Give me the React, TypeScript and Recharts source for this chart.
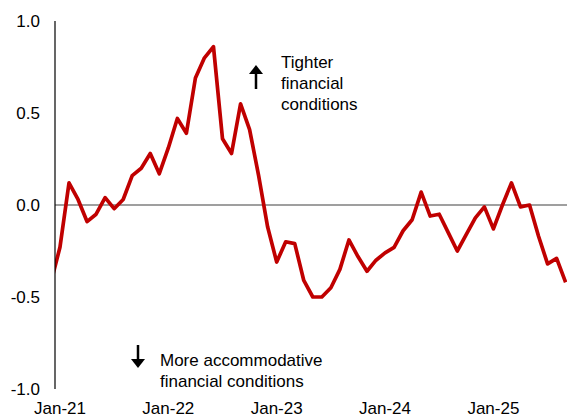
import { Line, LineChart, ReferenceLine, XAxis, YAxis } from "recharts";

// month labels, Dec-20 is only there so the line enters the plot from the left edge
const months = [
	"Dec-20",
	"Jan-21", "Feb-21", "Mar-21", "Apr-21", "May-21", "Jun-21", "Jul-21", "Aug-21", "Sep-21", "Oct-21", "Nov-21", "Dec-21",
	"Jan-22", "Feb-22", "Mar-22", "Apr-22", "May-22", "Jun-22", "Jul-22", "Aug-22", "Sep-22", "Oct-22", "Nov-22", "Dec-22",
	"Jan-23", "Feb-23", "Mar-23", "Apr-23", "May-23", "Jun-23", "Jul-23", "Aug-23", "Sep-23", "Oct-23", "Nov-23", "Dec-23",
	"Jan-24", "Feb-24", "Mar-24", "Apr-24", "May-24", "Jun-24", "Jul-24", "Aug-24", "Sep-24", "Oct-24", "Nov-24", "Dec-24",
	"Jan-25", "Feb-25", "Mar-25", "Apr-25", "May-25", "Jun-25", "Jul-25", "Aug-25", "Sep-25",
];

const fci = [
	-0.42,
	-0.23, 0.12, 0.03, -0.09, -0.05, 0.04, -0.02, 0.03, 0.16, 0.2, 0.28, 0.17,
	0.31, 0.47, 0.39, 0.69, 0.8, 0.86, 0.36, 0.28, 0.55, 0.41, 0.16, -0.12,
	-0.31, -0.2, -0.21, -0.41, -0.5, -0.5, -0.45, -0.35, -0.19, -0.28, -0.36, -0.3,
	-0.26, -0.23, -0.14, -0.08, 0.07, -0.06, -0.05, -0.15, -0.25, -0.16, -0.07, -0.01,
	-0.13, 0.0, 0.12, -0.01, 0.0, -0.17, -0.32, -0.29, -0.42,
];

const xTickLabels = ["Jan-21", "Jan-22", "Jan-23", "Jan-24", "Jan-25"];
const yTicks = [-1, -0.5, 0, 0.5, 1];

const FONT = "'Liberation Sans', Arial, sans-serif";

const chartData = months.map((m, i) => ({ idx: i - 1, month: m, value: fci[i] }));
const xTicks = xTickLabels.map((l) => months.indexOf(l) - 1);

export default function App() {
	return (
		<div style={{ position: "absolute", left: 0, top: 0, width: 567, height: 418 }}>
			<LineChart
				width={567}
				height={418}
				data={chartData}
				margin={{ top: 21, right: 0, bottom: 0, left: 0 }}
			>
				<XAxis
					type="number"
					dataKey="idx"
					domain={[-0.55, 56.15]}
					allowDataOverflow
					ticks={xTicks}
					tickFormatter={(v) => months[v + 1]}
					axisLine={false}
					tickLine={false}
					tickSize={0}
					tickMargin={13}
					height={29}
					tick={{ fontSize: 17, fill: "#000", fontFamily: FONT }}
				/>
				<YAxis
					domain={[-1, 1]}
					ticks={yTicks}
					tickFormatter={(v) => v.toFixed(1)}
					width={55}
					axisLine={{ stroke: "#000", strokeWidth: 1.2 }}
					tickLine={false}
					tickSize={0}
					tickMargin={15}
					tick={{ fontSize: 17, fill: "#000", fontFamily: FONT }}
				/>
				<ReferenceLine y={0} stroke="#7f7f7f" strokeWidth={1.5} />
				<Line
					type="linear"
					dataKey="value"
					stroke="#c00000"
					strokeWidth={3.7}
					strokeLinejoin="round"
					dot={false}
					isAnimationActive={false}
				/>
			</LineChart>
			<svg
				width={567}
				height={418}
				style={{ position: "absolute", left: 0, top: 0, pointerEvents: "none" }}
				fontFamily={FONT}
				fontSize={17}
				fill="#000"
			>
				<line x1={256} y1={72} x2={256} y2={89} stroke="#000" strokeWidth={2.5} />
				<polygon points="249,74 263,74 256,65" fill="#000" />
				<text x={281} y={68}>Tighter</text>
				<text x={281} y={89}>financial</text>
				<text x={281} y={110}>conditions</text>

				<line x1={138} y1={345} x2={138} y2={361} stroke="#000" strokeWidth={2.5} />
				<polygon points="131,359 145,359 138,368" fill="#000" />
				<text x={160} y={366}>More accommodative</text>
				<text x={160} y={387}>financial conditions</text>
			</svg>
		</div>
	);
}
